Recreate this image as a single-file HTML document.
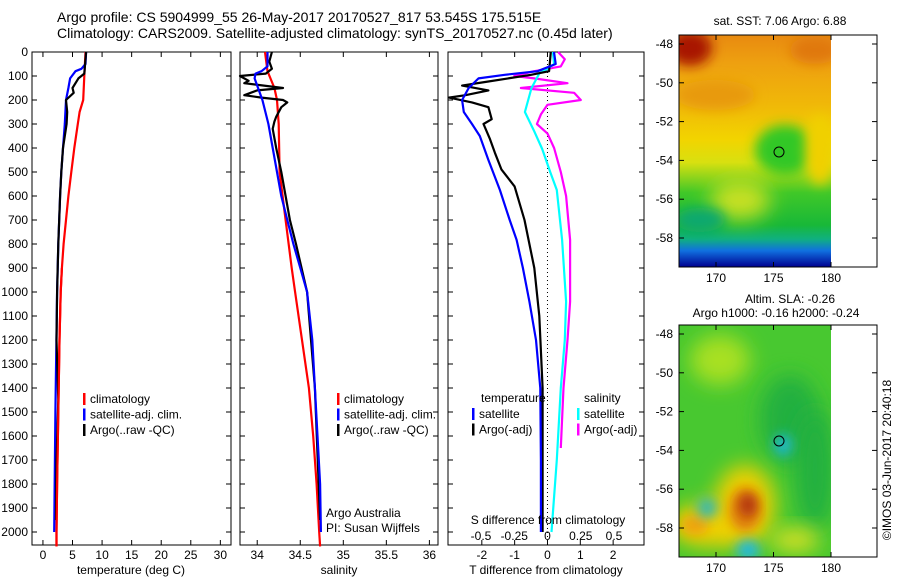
<!DOCTYPE html>
<html><head><meta charset="utf-8"><style>
html,body{margin:0;padding:0;background:#fff;}
svg{display:block;font-family:"Liberation Sans",sans-serif;}
</style></head><body>
<svg id="fig" width="900" height="580" viewBox="0 0 900 580">
<defs>
<filter id="blur6" x="-50%" y="-50%" width="200%" height="200%"><feGaussianBlur stdDeviation="6"/></filter>
<filter id="blur10" x="-50%" y="-50%" width="200%" height="200%"><feGaussianBlur stdDeviation="10"/></filter>
<linearGradient id="sstGrad" x1="0" y1="0" x2="0" y2="1">
<stop offset="0" stop-color="#e88a10"/><stop offset="0.12" stop-color="#eea010"/>
<stop offset="0.3" stop-color="#f0b808"/><stop offset="0.45" stop-color="#f2d400"/>
<stop offset="0.55" stop-color="#d8e010"/><stop offset="0.68" stop-color="#40c828"/>
<stop offset="0.82" stop-color="#18b838"/><stop offset="0.88" stop-color="#10b080"/>
<stop offset="0.93" stop-color="#1070e0"/><stop offset="1" stop-color="#000090"/>
</linearGradient>
<clipPath id="clipTop"><rect x="679" y="35" width="152" height="232"/></clipPath>
<clipPath id="clipBot"><rect x="679" y="325" width="152" height="232"/></clipPath>
</defs>
<text x="57" y="22" font-size="14">Argo profile: CS 5904999_55 26-May-2017 20170527_817 53.545S 175.515E</text>
<text x="57" y="38" font-size="14">Climatology: CARS2009. Satellite-adjusted climatology: synTS_20170527.nc (0.45d later)</text>

<g id="maps">
<g>
<text x="780" y="25" font-size="12" text-anchor="middle">sat. SST: 7.06 Argo: 6.88</text>
<g clip-path="url(#clipTop)">
<rect x="679" y="35" width="152" height="232" fill="url(#sstGrad)"/>
<ellipse cx="690" cy="48" rx="22" ry="18" fill="#a81800" filter="url(#blur6)"/>
<ellipse cx="815" cy="50" rx="25" ry="14" fill="#e07810" filter="url(#blur6)"/>
<ellipse cx="715" cy="95" rx="40" ry="15" fill="#e89a10" filter="url(#blur6)"/>
<ellipse cx="785" cy="150" rx="30" ry="25" fill="#30c828" filter="url(#blur6)"/>
<ellipse cx="740" cy="200" rx="30" ry="20" fill="#c8e020" filter="url(#blur10)"/>
<ellipse cx="700" cy="220" rx="25" ry="12" fill="#10a870" filter="url(#blur6)"/>
<ellipse cx="820" cy="150" rx="15" ry="35" fill="#f0d000" filter="url(#blur6)"/>
</g>
<rect x="679" y="35" width="198" height="232" fill="none" stroke="#000"/>
<circle cx="779" cy="152" r="5" fill="none" stroke="#000"/>
</g>
<g>
<text x="790" y="303" font-size="12" text-anchor="middle">Altim. SLA: -0.26</text>
<text x="776" y="317" font-size="12" text-anchor="middle">Argo h1000: -0.16 h2000: -0.24</text>
<g clip-path="url(#clipBot)">
<rect x="679" y="325" width="152" height="232" fill="#48c830"/>
<ellipse cx="720" cy="360" rx="30" ry="25" fill="#a8e020" filter="url(#blur10)"/>
<ellipse cx="790" cy="420" rx="30" ry="45" fill="#20b040" filter="url(#blur10)"/>
<ellipse cx="815" cy="470" rx="20" ry="60" fill="#20b040" filter="url(#blur10)"/>
<ellipse cx="783" cy="445" rx="9" ry="11" fill="#20b8d0" filter="url(#blur6)"/>
<ellipse cx="745" cy="505" rx="30" ry="40" fill="#f0d000" filter="url(#blur10)"/>
<ellipse cx="710" cy="525" rx="40" ry="22" fill="#f0d000" filter="url(#blur10)"/>
<ellipse cx="795" cy="540" rx="25" ry="12" fill="#d8e020" filter="url(#blur10)"/>
<ellipse cx="745" cy="510" rx="16" ry="22" fill="#e08010" filter="url(#blur6)"/>
<ellipse cx="748" cy="505" rx="9" ry="12" fill="#b03010" filter="url(#blur6)"/>
<ellipse cx="695" cy="525" rx="14" ry="10" fill="#f0a010" filter="url(#blur6)"/>
<ellipse cx="707" cy="508" rx="10" ry="10" fill="#30b8b8" filter="url(#blur6)"/>
<ellipse cx="748" cy="550" rx="12" ry="10" fill="#20b8e0" filter="url(#blur6)"/>
</g>
<rect x="679" y="325" width="198" height="232" fill="none" stroke="#000"/>
<circle cx="779" cy="441" r="5" fill="none" stroke="#000"/>
</g>
<text transform="translate(891,460) rotate(-90)" font-size="12" text-anchor="middle">©IMOS 03-Jun-2017 20:40:18</text>
</g>
<g id="plots"></g>
</svg>
<script>
// ---------- data ----------
const depthTicks = [0,100,200,300,400,500,600,700,800,900,1000,1100,1200,1300,1400,1500,1600,1700,1800,1900,2000];
const tempTicks = [0,5,10,15,20,25,30];
const salTicks = [34,34.5,35,35.5,36];
const tdiffTicks = [-2,-1,0,1,2];
const sdiffTicks = [-0.5,-0.25,0,0.25,0.5];
const latTicks = [-48,-50,-52,-54,-56,-58];
const lonTicks = [170,175,180];

const tClimDepth = [0,100,200,250,300,400,500,600,700,800,900,1000,1200,1500,1800,2000,2060];
const tClimVal   = [7.2,7.0,6.8,6.2,5.9,5.3,4.8,4.3,3.9,3.5,3.2,3.0,2.8,2.6,2.4,2.3,2.3];
const tSatDepth = [0,50,70,80,110,150,200,300,400,500,600,800,1000,1500,2000];
const tSatVal   = [7.3,7.2,6.5,5.5,4.6,4.3,3.9,3.7,3.4,3.1,2.9,2.6,2.4,2.1,1.9];
const tArgoDepth = [0,90,110,150,170,200,250,300,400,500,600,800,1000,1200,1450,1700,1950];
const tArgoVal   = [7.3,7.0,6.0,5.0,5.2,3.9,4.1,4.0,3.4,3.1,2.9,2.6,2.4,2.3,2.6,2.3,2.2];

const sClimDepth = [0,80,150,200,300,500,700,900,1000,1200,1400,1600,1800,2000,2060];
const sClimVal   = [34.09,34.12,34.2,34.23,34.25,34.26,34.33,34.4,34.44,34.52,34.6,34.65,34.69,34.72,34.73];
const sSatDepth = [0,60,80,90,110,200,300,400,500,600,700,800,900,1000,1200,1400,1600,1800,2000];
const sSatVal   = [34.12,34.12,34.05,33.98,33.97,34.06,34.13,34.18,34.23,34.28,34.35,34.42,34.5,34.58,34.64,34.67,34.7,34.73,34.74];
const sArgoDepth = [0,40,70,90,100,120,130,150,160,180,190,200,210,230,270,290,320,400,500,700,800,1000,1400,1950];
const sArgoVal   = [34.17,34.14,34.17,34.1,33.8,33.9,33.85,34.3,34.0,33.85,34.05,34.3,34.35,34.28,34.22,34.2,34.18,34.22,34.28,34.38,34.45,34.58,34.67,34.73];

const dtSatDepth = [0,50,80,95,110,150,200,250,300,350,450,575,700,783,900,1040,1200,1400,1700,2000];
const dtSatVal   = [0.2,0.25,-0.3,-1.3,-2.1,-2.4,-2.6,-2.55,-2.3,-2.06,-1.8,-1.45,-1.15,-0.94,-0.75,-0.55,-0.35,-0.22,-0.2,-0.2];
const dtArgoDepth = [0,80,95,110,125,140,160,180,190,210,230,280,300,360,420,490,560,700,900,1100,1400,2000];
const dtArgoVal   = [0.1,0.05,-0.5,-1.2,-1.9,-2.6,-1.8,-2.5,-3.0,-2.3,-1.8,-1.7,-1.95,-1.76,-1.6,-1.4,-1.0,-0.7,-0.4,-0.25,-0.15,-0.15];
const dsSatDepth = [0,50,70,88,150,250,330,404,500,575,783,1040,1200,1400,1700,2000];
const dsSatVal   = [0.04,0.05,0.0,-0.06,-0.12,-0.17,-0.1,-0.04,0.02,0.07,0.11,0.14,0.13,0.1,0.07,0.03];
const dsArgoDepth = [0,30,60,80,100,110,130,150,170,200,220,260,300,340,400,500,600,783,1040,1200,1400,1650];
const dsArgoVal   = [0.08,0.13,0.1,-0.1,-0.25,-0.1,0.15,-0.2,0.2,0.25,0.0,-0.05,-0.08,0.0,0.05,0.1,0.14,0.17,0.17,0.15,0.12,0.1];

// ---------- layout ----------
const NS = 'http://www.w3.org/2000/svg';
const root = document.getElementById('plots');
const Y0 = 52, Ypx = 0.24, TOP = 52, BOT = 545;
function yScale(d){ return Y0 + d*Ypx; }
function mk(tag, attrs, parent){
  const e = document.createElementNS(NS, tag);
  for (const k in attrs) e.setAttribute(k, attrs[k]);
  (parent||root).appendChild(e); return e;
}
function panel(name, x0, x1, vmin, vmax){
  const g = mk('g', {});
  
  
  const xs = v => x0 + (v - vmin)/(vmax - vmin)*(x1 - x0);
  return {g, xs, x0, x1};
}
function frame(p, xTicks, labelFmt, showY){
  mk('rect', {x:p.x0, y:TOP, width:p.x1-p.x0, height:BOT-TOP, fill:'none', stroke:'#000'}, p.g);
  xTicks.forEach(t => {
    const x = p.xs(t);
    mk('line', {x1:x, x2:x, y1:BOT, y2:BOT-5, stroke:'#000'}, p.g);
    mk('line', {x1:x, x2:x, y1:TOP, y2:TOP+5, stroke:'#000'}, p.g);
    const tx = mk('text', {x:x, y:BOT+14, 'font-size':12, 'text-anchor':'middle'}, p.g);
    
    
    tx.textContent = labelFmt ? labelFmt(t) : t;
  });
  depthTicks.forEach(d => {
    const y = yScale(d);
    mk('line', {x1:p.x0, x2:p.x0+5, y1:y, y2:y, stroke:'#000'}, p.g);
    mk('line', {x1:p.x1, x2:p.x1-5, y1:y, y2:y, stroke:'#000'}, p.g);
    if (showY){
      const tx = mk('text', {x:28, y:y+4, 'font-size':12, 'text-anchor':'end'}, p.g);
      
      
      tx.textContent = d;
    }
  });
}
function line(p, depths, vals, color, name){
  const pts = depths.map((d,i) => p.xs(vals[i]).toFixed(1)+','+yScale(d).toFixed(1)).join(' ');
  const pl = mk('polyline', {points:pts, fill:'none', stroke:color, 'stroke-width':2.2, 'stroke-linejoin':'round'}, p.g);
  
  
}
function label(p, x, y, txt, name, anchor){
  const t = mk('text', {x:x, y:y, 'font-size':12, 'text-anchor':anchor||'start'}, p.g);
  
  
  t.textContent = txt;
}
function legend(p, x, y, entries){
  entries.forEach((e,i) => {
    const yy = y + i*15.5;
    const m = mk('rect', {x:x, y:yy-10, width:2.5, height:12, fill:e[1]}, p.g);
    
    
    label(p, x+7, yy, e[0], 'legend-entry');
  });
}

// panel 1 temperature
const p1 = panel('temperature-panel', 32, 231, -1.85, 31.8);
frame(p1, tempTicks, null, true);
line(p1, tClimDepth, tClimVal, '#f00', 'temp-climatology-line');
line(p1, tSatDepth, tSatVal, '#00f', 'temp-satellite-line');
line(p1, tArgoDepth, tArgoVal, '#000', 'temp-argo-line');
line(p1, tClimDepth.slice(10), tClimVal.slice(10), '#f00', 'temp-climatology-deep');
legend(p1, 83, 403, [['climatology','#f00'],['satellite-adj. clim.','#00f'],['Argo(..raw -QC)','#000']]);
label(p1, 131, 574, 'temperature (deg C)', 'x-axis-title', 'middle');

// panel 2 salinity
const p2 = panel('salinity-panel', 240, 438, 33.8, 36.1);
frame(p2, salTicks, null, false);
line(p2, sClimDepth, sClimVal, '#f00', 'sal-climatology-line');
line(p2, sArgoDepth, sArgoVal, '#000', 'sal-argo-line');
line(p2, sSatDepth, sSatVal, '#00f', 'sal-satellite-line');
legend(p2, 337, 403, [['climatology','#f00'],['satellite-adj. clim.','#00f'],['Argo(..raw -QC)','#000']]);
label(p2, 326, 517, 'Argo Australia', 'credit-argo-australia');
label(p2, 326, 532, 'PI: Susan Wijffels', 'credit-pi');
label(p2, 339, 574, 'salinity', 'x-axis-title', 'middle');

// panel 3 differences
const p3 = panel('difference-panel', 448, 644, -3.03, 2.94);
frame(p3, tdiffTicks, null, false);
mk('line', {x1:p3.xs(0), x2:p3.xs(0), y1:TOP, y2:BOT, stroke:'#000', 'stroke-dasharray':'1,3'}, p3.g);
const p3s = panel('salinity-difference-axis', 448, 644, -0.5 - (481-448)/133, 0.5 + (644-614)/133);
p3.g.appendChild(p3s.g);
line(p3s, dsArgoDepth, dsArgoVal, '#f0f', 'sdiff-argo-line');
line(p3s, dsSatDepth, dsSatVal, '#0ff', 'sdiff-satellite-line');
line(p3, dtArgoDepth, dtArgoVal, '#000', 'tdiff-argo-line');
line(p3, dtSatDepth, dtSatVal, '#00f', 'tdiff-satellite-line');
label(p3, 481, 402, 'temperature', 'legend-title-temperature');
label(p3, 584, 402, 'salinity', 'legend-title-salinity');
legend(p3, 472, 418, [['satellite','#00f'],['Argo(-adj)','#000']]);
legend(p3, 577, 418, [['satellite','#0ff'],['Argo(-adj)','#f0f']]);
label(p3, 548, 524, 'S difference from climatology', 'sdiff-axis-title', 'middle');
sdiffTicks.forEach(t => label(p3s, p3s.xs(t), 540, String(t), 'sdiff-tick-label', 'middle'));
label(p3, 546, 574, 'T difference from climatology', 'x-axis-title', 'middle');

// map axes
const mapG = document.getElementById('maps');
const lonX = lon => 716 + (lon - 170)*11.5;
[[35,267,44],[325,557,334]].forEach(([top,bot,lat48]) => {
  latTicks.forEach(lat => {
    const y = lat48 + (-48 - lat)*19.4;
    mk('line', {x1:679, x2:684, y1:y, y2:y, stroke:'#000'}, mapG);
    mk('line', {x1:877, x2:872, y1:y, y2:y, stroke:'#000'}, mapG);
    const t = mk('text', {x:673, y:y+4, 'font-size':12, 'text-anchor':'end'}, mapG);
    
    
    t.textContent = lat;
  });
  lonTicks.forEach(lon => {
    const x = lonX(lon);
    mk('line', {x1:x, x2:x, y1:bot, y2:bot-5, stroke:'#000'}, mapG);
    mk('line', {x1:x, x2:x, y1:top, y2:top+5, stroke:'#000'}, mapG);
    const t = mk('text', {x:x, y:bot+15, 'font-size':12, 'text-anchor':'middle'}, mapG);
    
    
    t.textContent = lon;
  });
});
</script>
</body></html>
